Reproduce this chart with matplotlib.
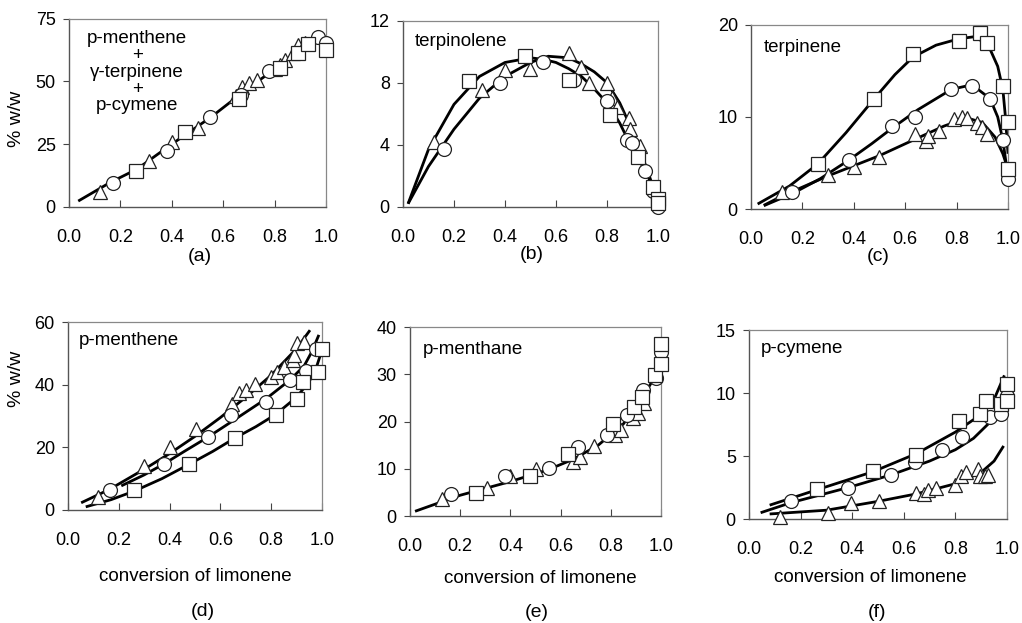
import matplotlib.pyplot as plt

plt.rcParams['font.family'] = ['Liberation Sans', 'DejaVu Sans']
plt.rcParams['font.size'] = 13

xticks = [0.0, 0.2, 0.4, 0.6, 0.8, 1.0]
xtick_labels = ['0.0', '0.2', '0.4', '0.6', '0.8', '1.0']

# (a) p-menthene + gamma-terpinene + p-cymene
a_sq_x = [0.26, 0.45, 0.66, 0.82, 0.89, 0.93, 1.0]
a_sq_y = [14.4, 30.0, 43.0, 55.4, 61.4, 65.0, 62.6]
a_ci_x = [0.17, 0.38, 0.55, 0.67, 0.78, 0.97, 1.0]
a_ci_y = [9.6, 22.3, 35.8, 44.7, 54.0, 67.8, 65.4]
a_tr_x = [0.12, 0.31, 0.40, 0.50, 0.65, 0.675, 0.70, 0.73, 0.80, 0.82, 0.84, 0.87, 0.89, 0.92]
a_tr_y = [6.0, 18.3, 25.8, 31.4, 44.3, 47.8, 49.4, 50.7, 55.0, 56.5, 58.5, 61.5, 64.5, 65.5]
a_fit_x = [0.036, 0.16, 0.264, 0.4, 0.553, 0.7, 0.85, 0.975]
a_fit_y = [2.3, 9.7, 15.0, 25.0, 35.8, 47.5, 58.5, 67.8]

# (b) terpinolene
b_sq_x = [0.26, 0.48, 0.65, 0.81, 0.92, 0.98, 1.0, 1.0]
b_sq_y = [8.1, 9.7, 8.2, 5.9, 3.2, 1.3, 0.5, 0.25]
b_ci_x = [0.16, 0.38, 0.55, 0.67, 0.80, 0.88, 0.90, 0.95, 0.98, 1.0]
b_ci_y = [3.75, 8.0, 9.3, 8.2, 6.8, 4.3, 4.1, 2.3, 1.0, 0.0]
b_tr_x = [0.12, 0.31, 0.40, 0.50, 0.65, 0.70, 0.73, 0.80, 0.82, 0.84, 0.885, 0.89, 0.93]
b_tr_y = [4.2, 7.5, 8.8, 8.9, 9.9, 9.0, 8.0, 8.0, 7.0, 6.45, 5.75, 5.0, 3.9]
b_fit1_x = [0.02, 0.1, 0.2, 0.3, 0.4, 0.5, 0.55, 0.6, 0.65, 0.7, 0.75, 0.8, 0.85, 0.88, 0.92, 0.96, 0.99, 1.0]
b_fit1_y = [0.2, 3.7, 6.6, 8.4, 9.3, 9.6, 9.5, 9.3, 8.9, 8.4, 7.6, 6.7, 5.4, 4.4, 3.2, 2.0, 0.8, 0.2]
b_fit2_x = [0.02, 0.1, 0.2, 0.3, 0.4, 0.5, 0.57, 0.65, 0.7, 0.75, 0.8, 0.85, 0.9, 0.94, 0.97, 1.0]
b_fit2_y = [0.2, 2.6, 5.0, 7.0, 8.4, 9.3, 9.7, 9.6, 9.2, 8.7, 8.0, 6.7, 4.9, 3.2, 1.8, 0.3]

# (c) terpinene
c_sq_x = [0.26, 0.48, 0.63, 0.81, 0.89, 0.92, 0.98, 1.0, 1.0]
c_sq_y = [4.9, 12.0, 16.8, 18.2, 19.1, 18.0, 13.4, 9.4, 4.3]
c_ci_x = [0.16, 0.38, 0.55, 0.64, 0.78, 0.86, 0.93, 0.98, 1.0]
c_ci_y = [1.8, 5.35, 9.0, 10.0, 13.0, 13.4, 11.9, 7.5, 3.3]
c_tr_x = [0.12, 0.30, 0.40, 0.50, 0.64, 0.68, 0.69, 0.73, 0.79, 0.82, 0.84, 0.88, 0.90, 0.92]
c_tr_y = [1.8, 3.7, 4.6, 5.7, 8.1, 7.4, 7.9, 8.5, 9.8, 10.0, 9.9, 9.3, 8.9, 8.2]
c_fit_sq_x = [0.026, 0.15, 0.26, 0.37, 0.48, 0.56, 0.63, 0.72, 0.81, 0.864, 0.92, 0.96, 0.98, 0.99, 1.0]
c_fit_sq_y = [0.54, 2.5, 4.9, 8.3, 12.0, 14.6, 16.5, 17.8, 18.5, 18.7, 18.0, 15.5, 13.0, 10.0, 6.0]
c_fit_ci_x = [0.05, 0.163, 0.27, 0.38, 0.47, 0.55, 0.65, 0.78, 0.86, 0.93, 0.96, 0.98, 1.0]
c_fit_ci_y = [0.36, 1.7, 3.3, 5.3, 7.1, 8.8, 10.8, 13.0, 13.5, 12.0, 10.0, 7.5, 3.5]
c_fit_tr_x = [0.05, 0.12, 0.3, 0.5, 0.64, 0.75, 0.84, 0.9, 0.95, 0.98, 1.0]
c_fit_tr_y = [0.4, 1.4, 3.6, 5.8, 7.6, 9.0, 9.9, 9.4, 7.8, 6.0, 4.3]

# (d) p-menthene
d_sq_x = [0.26, 0.475, 0.656, 0.818, 0.90, 0.925, 0.984, 1.0]
d_sq_y = [6.3, 14.7, 22.9, 30.2, 35.5, 41.0, 44.2, 51.4]
d_ci_x = [0.164, 0.378, 0.55, 0.64, 0.78, 0.874, 0.937, 0.975, 1.0]
d_ci_y = [6.5, 14.7, 23.2, 30.2, 34.5, 41.6, 44.5, 51.4, 51.4]
d_tr_x = [0.12, 0.30, 0.40, 0.505, 0.647, 0.673, 0.70, 0.735, 0.80, 0.824, 0.85, 0.885, 0.89, 0.90, 0.93]
d_tr_y = [4.0, 14.2, 20.0, 25.8, 33.7, 37.4, 38.4, 40.2, 42.6, 44.2, 45.8, 48.0, 49.5, 53.2, 53.7]
d_fit_tr_x = [0.052, 0.164, 0.3, 0.4, 0.5, 0.6, 0.7, 0.8, 0.9, 0.953]
d_fit_tr_y = [2.3, 6.6, 13.0, 18.0, 23.5, 29.5, 36.0, 43.0, 51.5, 57.4]
d_fit_ci_x = [0.21, 0.3, 0.378, 0.46, 0.55, 0.65, 0.78, 0.874, 0.93, 0.96, 0.988]
d_fit_ci_y = [7.7, 11.2, 14.7, 18.8, 23.2, 28.5, 35.5, 41.5, 46.0, 50.5, 55.9]
d_fit_sq_x = [0.07, 0.17, 0.26, 0.37, 0.475, 0.57, 0.656, 0.74, 0.818, 0.9, 0.95, 0.98, 1.0]
d_fit_sq_y = [1.0, 3.3, 6.0, 10.0, 14.5, 18.7, 22.9, 26.6, 30.5, 36.0, 41.0, 46.0, 51.0]

# (e) p-menthane
e_sq_x = [0.263, 0.479, 0.63, 0.81, 0.894, 0.924, 0.977, 1.0, 1.0]
e_sq_y = [4.8, 8.5, 13.1, 19.5, 23.0, 25.2, 29.9, 32.2, 36.3]
e_ci_x = [0.162, 0.379, 0.552, 0.67, 0.785, 0.864, 0.93, 0.98, 1.0]
e_ci_y = [4.6, 8.5, 10.1, 14.6, 17.2, 21.4, 26.6, 29.2, 34.7]
e_tr_x = [0.126, 0.306, 0.40, 0.50, 0.65, 0.678, 0.734, 0.818, 0.84, 0.89, 0.91, 0.933]
e_tr_y = [3.5, 5.9, 8.5, 9.9, 11.5, 12.4, 14.8, 17.2, 18.2, 20.7, 21.8, 23.9]
e_fit_x = [0.02, 0.2, 0.4, 0.55, 0.65, 0.75, 0.85, 0.92, 0.97, 0.99]
e_fit_y = [1.0, 4.4, 7.3, 9.8, 12.0, 15.0, 19.5, 24.5, 29.0, 31.0]

# (f) p-cymene
f_sq_x = [0.265, 0.479, 0.649, 0.814, 0.894, 0.917, 0.978, 1.0, 1.0]
f_sq_y = [2.4, 3.8, 5.1, 7.8, 8.3, 9.4, 9.1, 10.7, 9.4]
f_ci_x = [0.163, 0.385, 0.55, 0.643, 0.75, 0.827, 0.933, 0.978, 1.0]
f_ci_y = [1.4, 2.5, 3.5, 4.5, 5.5, 6.5, 8.1, 8.3, 9.8]
f_tr_x = [0.12, 0.307, 0.397, 0.505, 0.646, 0.68, 0.694, 0.726, 0.797, 0.823, 0.84, 0.888, 0.894, 0.913, 0.926]
f_tr_y = [0.2, 0.47, 1.3, 1.45, 2.05, 2.0, 2.3, 2.45, 2.7, 3.4, 3.7, 4.0, 3.4, 3.4, 3.5]
f_fit_sq_x = [0.08, 0.26, 0.48, 0.65, 0.8, 0.9, 0.95, 0.99]
f_fit_sq_y = [1.1, 2.3, 3.75, 5.2, 6.9, 8.3, 9.5, 11.4]
f_fit_ci_x = [0.045, 0.163, 0.385, 0.55, 0.7, 0.8, 0.87, 0.93, 0.978]
f_fit_ci_y = [0.5, 1.3, 2.5, 3.5, 4.6, 5.5, 6.4, 7.6, 8.65]
f_fit_tr_x = [0.08, 0.3, 0.5, 0.65, 0.8, 0.9, 0.95, 0.987]
f_fit_tr_y = [0.4, 0.7, 1.4, 2.0, 2.8, 3.7, 4.6, 5.8]


fig = plt.figure(figsize=(10.22, 6.23), dpi=100)

# 各子图位置 [left, bottom, width, height]
positions = {
    'a': [0.0675, 0.668, 0.2515, 0.302],
    'b': [0.3943, 0.668, 0.2495, 0.299],
    'c': [0.7348, 0.6645, 0.2515, 0.2955],
    'd': [0.0665, 0.1814, 0.2485, 0.3017],
    'e': [0.4012, 0.1717, 0.2456, 0.3034],
    'f': [0.7329, 0.1669, 0.2524, 0.3034],
}


def setup(ax, ymax, yticks):
    ax.set_xlim(0, 1.0)
    ax.set_ylim(0, ymax)
    ax.set_xticks(xticks)
    ax.set_xticklabels(xtick_labels)
    ax.set_yticks(yticks)
    ax.tick_params(axis='x', direction='in', length=5, pad=16, labelsize=13, color='#444444')
    ax.tick_params(axis='y', direction='out', length=4.5, pad=5, labelsize=13, color='#444444')
    for side in ['top', 'right']:
        ax.spines[side].set_color('#888888')
        ax.spines[side].set_linewidth(0.9)
    for side in ['left', 'bottom']:
        ax.spines[side].set_color('#555555')
        ax.spines[side].set_linewidth(1.0)


def points(ax, sx, sy, cx, cy, tx, ty):
    style = dict(linestyle='none', markerfacecolor='white', markeredgecolor='#222222',
                 markeredgewidth=0.9, zorder=3, clip_on=False)
    ax.plot(tx, ty, marker='^', markersize=10.5, **style)
    ax.plot(cx, cy, marker='o', markersize=10, **style)
    ax.plot(sx, sy, marker='s', markersize=9.5, **style)


def curve(ax, x, y):
    ax.plot(x, y, color='black', linewidth=2.0, zorder=2, solid_capstyle='butt')


# (a)
ax = fig.add_axes(positions['a'])
setup(ax, 75, [0, 25, 50, 75])
curve(ax, a_fit_x, a_fit_y)
points(ax, a_sq_x, a_sq_y, a_ci_x, a_ci_y, a_tr_x, a_tr_y)
ax.set_ylabel('% w/w', fontsize=14)
ax.yaxis.set_label_coords(-0.17, 0.47)
ax.text(0.265, 0.715, 'p-menthene\n+\nγ-terpinene\n+\np-cymene', transform=ax.transAxes,
        ha='center', va='center', fontsize=13.5, linespacing=0.98, multialignment='center')
ax.text(0.51, -0.266, '(a)', transform=ax.transAxes, ha='center', va='center', fontsize=14)

# (b)
ax = fig.add_axes(positions['b'])
setup(ax, 12, [0, 4, 8, 12])
curve(ax, b_fit1_x, b_fit1_y)
curve(ax, b_fit2_x, b_fit2_y)
points(ax, b_sq_x, b_sq_y, b_ci_x, b_ci_y, b_tr_x, b_tr_y)
ax.text(0.047, 0.887, 'terpinolene', transform=ax.transAxes, ha='left', va='center', fontsize=13.5)
ax.text(0.506, -0.258, '(b)', transform=ax.transAxes, ha='center', va='center', fontsize=14)

# (c)
ax = fig.add_axes(positions['c'])
setup(ax, 20, [0, 10, 20])
curve(ax, c_fit_sq_x, c_fit_sq_y)
curve(ax, c_fit_ci_x, c_fit_ci_y)
curve(ax, c_fit_tr_x, c_fit_tr_y)
points(ax, c_sq_x, c_sq_y, c_ci_x, c_ci_y, c_tr_x, c_tr_y)
ax.text(0.05, 0.88, 'terpinene', transform=ax.transAxes, ha='left', va='center', fontsize=13.5)
ax.text(0.494, -0.26, '(c)', transform=ax.transAxes, ha='center', va='center', fontsize=14)

# (d)
ax = fig.add_axes(positions['d'])
setup(ax, 60, [0, 20, 40, 60])
curve(ax, d_fit_tr_x, d_fit_tr_y)
curve(ax, d_fit_ci_x, d_fit_ci_y)
curve(ax, d_fit_sq_x, d_fit_sq_y)
points(ax, d_sq_x, d_sq_y, d_ci_x, d_ci_y, d_tr_x, d_tr_y)
ax.set_ylabel('% w/w', fontsize=14)
ax.yaxis.set_label_coords(-0.17, 0.70)
ax.text(0.043, 0.90, 'p-menthene', transform=ax.transAxes, ha='left', va='center', fontsize=13.5)
ax.text(0.50, -0.356, 'conversion of limonene', transform=ax.transAxes, ha='center', va='center', fontsize=13.5)
ax.text(0.53, -0.54, '(d)', transform=ax.transAxes, ha='center', va='center', fontsize=14)

# (e)
ax = fig.add_axes(positions['e'])
setup(ax, 40, [0, 10, 20, 30, 40])
curve(ax, e_fit_x, e_fit_y)
points(ax, e_sq_x, e_sq_y, e_ci_x, e_ci_y, e_tr_x, e_tr_y)
ax.text(0.052, 0.88, 'p-menthane', transform=ax.transAxes, ha='left', va='center', fontsize=13.5)
ax.text(0.518, -0.328, 'conversion of limonene', transform=ax.transAxes, ha='center', va='center', fontsize=13.5)
ax.text(0.506, -0.513, '(e)', transform=ax.transAxes, ha='center', va='center', fontsize=14)

# (f)
ax = fig.add_axes(positions['f'])
setup(ax, 15, [0, 5, 10, 15])
curve(ax, f_fit_sq_x, f_fit_sq_y)
curve(ax, f_fit_ci_x, f_fit_ci_y)
curve(ax, f_fit_tr_x, f_fit_tr_y)
points(ax, f_sq_x, f_sq_y, f_ci_x, f_ci_y, f_tr_x, f_tr_y)
ax.text(0.047, 0.90, 'p-cymene', transform=ax.transAxes, ha='left', va='center', fontsize=13.5)
ax.text(0.469, -0.312, 'conversion of limonene', transform=ax.transAxes, ha='center', va='center', fontsize=13.5)
ax.text(0.496, -0.497, '(f)', transform=ax.transAxes, ha='center', va='center', fontsize=14)

fig.savefig('out.png', dpi=100)
